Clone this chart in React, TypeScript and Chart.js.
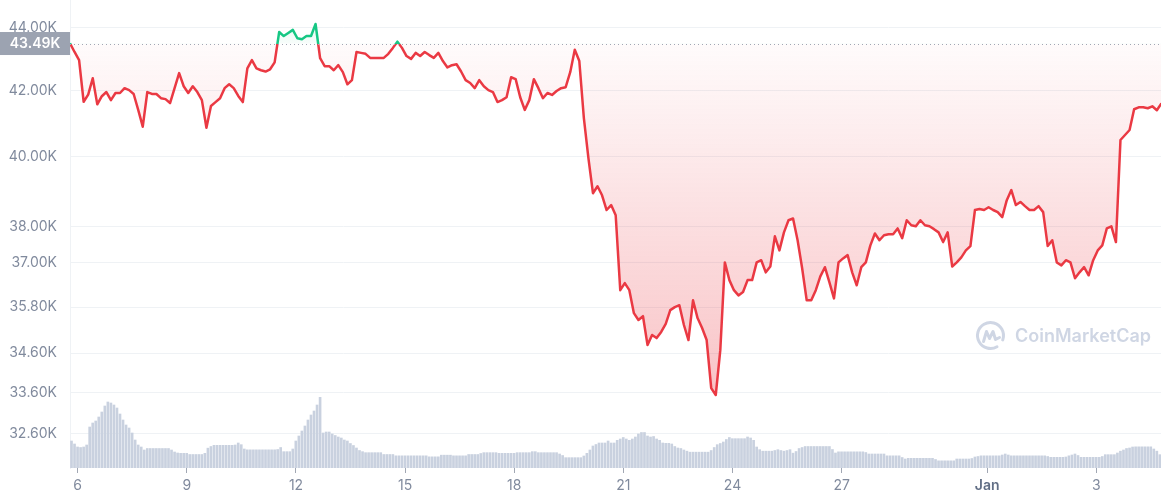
import React, { useEffect, useRef } from 'react';
import { Chart, registerables } from 'chart.js';

Chart.register(...registerables);

// ---------- data ----------
const REF_PRICE = 43490; // opening price of the period (dotted line)
const PRICE_START_DAY = 5.788; // day-of-month (Jan) of first price sample
const PRICE_STEP_DAYS = 0.125; // 3-hour samples
const VOLUME_START_DAY = 5.829;
const VOLUME_STEP_DAYS = 1 / 12; // 2-hour bars

const X_MIN = 5.788;
const X_MAX = 35.777;
const X_TICKS = [6, 9, 12, 15, 18, 21, 24, 27, 31, 34];
const X_TICK_LABELS = ['6', '9', '12', '15', '18', '21', '24', '27', 'Jan', '3'];

const Y_MIN = 31790;
const Y_MAX = 44910;
const Y_TICKS = [32600, 33600, 34600, 35800, 37000, 38000, 40000, 42000, 44000];

const VOLUME_AXIS_MAX = 280.8; // billions USD

const PRICES = [
  43500, 43220, 42960, 41660, 41880, 42390, 41580, 41830, 41960, 41710,
  41930, 41930, 42080, 42020, 41900, 41410, 40900, 41960, 41900, 41900,
  41770, 41740, 41620, 42080, 42550, 42140, 41930, 42140, 41960, 41710,
  40870, 41530, 41650, 41770, 42080, 42200, 42080, 41840, 41650, 42700,
  42960, 42700, 42640, 42600, 42670, 42890, 43860, 43730, 43830, 43930,
  43660, 43630, 43730, 43730, 44120, 43020, 42770, 42770, 42640, 42800,
  42580, 42200, 42330, 43220, 43190, 43160, 43030, 43030, 43030, 43030,
  43160, 43350, 43550, 43350, 43090, 43000, 43190, 43090, 43220, 43120,
  43030, 43190, 42930, 42730, 42800, 42830, 42600, 42330, 42240, 42080,
  42330, 42140, 42020, 41960, 41650, 41710, 41800, 42420, 42360, 41800,
  41410, 41710, 42360, 42080, 41770, 41930, 41870, 41990, 42080, 42110,
  42580, 43290, 42930, 41160, 39960, 38940, 39140, 38880, 38460, 38600,
  38310, 36250, 36440, 36250, 35640, 35460, 35560, 34810, 35070, 34990,
  35150, 35360, 35720, 35800, 35850, 35330, 34940, 35980, 35510, 35250,
  34940, 33720, 33550, 34680, 37000, 36520, 36250, 36110, 36200, 36520,
  36520, 37000, 37060, 36730, 36890, 37720, 37330, 37830, 38170, 38220,
  37610, 36840, 35980, 35980, 36250, 36620, 36870, 36460, 36030, 37000,
  37110, 37200, 36730, 36380, 36870, 37000, 37470, 37800, 37610, 37750,
  37780, 37780, 37940, 37670, 38170, 38030, 38000, 38170, 38030, 38000,
  37920, 37830, 37560, 37830, 36890, 37000, 37140, 37330, 37450, 38460,
  38490, 38460, 38540, 38460, 38400, 38260, 38740, 39030, 38600, 38690,
  38570, 38460, 38460, 38570, 38400, 37450, 37610, 37000, 36920, 37060,
  37000, 36570, 36730, 36870, 36650, 37060, 37330, 37470, 37940, 38000,
  37560, 40500, 40650, 40800, 41430, 41490, 41490, 41460, 41520, 41400,
  41610,
];

const VOLUMES = [
  16.2, 14.4, 12.6, 12.3, 12.6, 13.8, 24.6, 27.0, 28.2, 30.6,
  33.6, 37.2, 39.6, 39.0, 37.8, 36.0, 32.4, 28.8, 25.8, 24.0,
  21.0, 16.8, 13.8, 12.6, 10.8, 11.7, 11.7, 11.7, 11.7, 11.7,
  11.7, 11.7, 11.7, 10.8, 9.6, 9.0, 8.8, 8.8, 8.8, 8.1,
  8.1, 8.1, 8.1, 8.1, 8.8, 11.9, 12.9, 13.6, 13.6, 13.6,
  13.6, 13.6, 13.6, 13.6, 13.8, 15.0, 14.0, 11.4, 10.9, 10.9,
  10.9, 10.9, 10.9, 10.9, 10.9, 10.9, 10.9, 10.9, 11.1, 12.3,
  9.8, 9.8, 9.8, 11.4, 16.2, 19.2, 22.2, 25.2, 28.8, 31.8,
  34.2, 37.8, 42.4, 21.0, 21.6, 21.6, 20.4, 19.5, 18.6, 18.0,
  16.8, 16.2, 14.7, 13.5, 12.0, 10.5, 9.8, 9.2, 9.2, 9.2,
  9.2, 9.2, 9.2, 8.1, 8.1, 8.1, 8.1, 7.3, 7.3, 7.3,
  7.3, 7.3, 7.3, 7.3, 7.3, 7.3, 7.3, 7.3, 6.7, 6.7,
  6.7, 6.7, 7.7, 7.7, 7.7, 7.7, 7.3, 7.3, 7.3, 7.3,
  7.3, 8.1, 8.1, 8.1, 8.1, 8.7, 9.2, 9.2, 9.2, 9.2,
  9.2, 8.8, 8.8, 8.8, 8.8, 8.8, 8.8, 9.2, 9.2, 9.2,
  9.2, 9.2, 9.8, 9.8, 9.2, 9.2, 9.2, 9.2, 9.2, 9.2,
  9.2, 8.4, 7.5, 6.2, 6.2, 6.2, 6.2, 6.2, 6.2, 7.2,
  8.8, 10.8, 13.2, 14.1, 15.0, 15.0, 15.0, 16.2, 15.0, 15.0,
  16.6, 17.4, 18.3, 17.4, 16.6, 17.4, 18.6, 20.4, 21.3, 21.3,
  19.2, 18.6, 18.9, 17.4, 16.6, 15.0, 14.8, 14.8, 14.4, 12.9,
  12.0, 11.7, 10.8, 10.1, 9.5, 9.5, 9.5, 9.5, 9.5, 9.5,
  9.5, 10.5, 12.3, 14.0, 14.7, 15.6, 17.1, 18.3, 17.6, 17.6,
  17.6, 17.6, 17.6, 18.6, 18.0, 16.6, 12.6, 11.0, 10.1, 10.1,
  10.1, 10.1, 10.5, 11.0, 10.5, 10.1, 10.5, 11.0, 8.9, 9.9,
  11.7, 12.3, 12.9, 12.9, 12.9, 12.9, 12.9, 12.9, 12.9, 12.9,
  12.9, 11.1, 9.0, 9.7, 9.7, 9.7, 9.7, 9.7, 9.7, 9.7,
  9.7, 9.7, 9.3, 8.4, 8.4, 8.4, 8.4, 8.4, 8.4, 7.3,
  7.3, 7.3, 7.3, 7.3, 6.3, 5.4, 5.8, 5.8, 5.8, 5.8,
  5.8, 5.8, 5.8, 5.8, 5.8, 5.1, 4.3, 4.3, 4.3, 4.3,
  4.3, 4.3, 5.4, 5.4, 5.4, 5.4, 5.4, 5.7, 6.6, 6.9,
  7.3, 7.3, 7.3, 7.3, 7.3, 7.3, 7.3, 7.8, 8.4, 7.8,
  7.3, 7.3, 7.3, 7.3, 7.3, 7.3, 7.3, 7.3, 7.3, 7.3,
  7.3, 7.3, 6.9, 6.4, 6.4, 6.4, 6.4, 6.4, 6.6, 7.3,
  7.8, 8.4, 7.5, 6.4, 6.4, 6.4, 6.4, 6.4, 6.4, 6.4,
  6.9, 8.0, 8.0, 8.0, 8.0, 9.0, 10.1, 10.8, 11.7, 12.0,
  12.6, 12.7, 12.7, 12.7, 12.7, 12.7, 12.7, 11.4, 10.1, 8.0,
];

// ---------- styles ----------
const RED = '#ea3943';
const GREEN = '#16c784';
const LABEL_COLOR = '#808a9d';
const GRID_COLOR = '#eff2f5';
const FONT = 'Inter';

function lineColor(ctx: any) {
  const chart = ctx.chart;
  const area = chart.chartArea;
  if (!area) return RED;
  const yRef = chart.scales.y.getPixelForValue(REF_PRICE);
  const s = Math.min(Math.max((yRef - area.top) / (area.bottom - area.top), 0), 1);
  const g = chart.ctx.createLinearGradient(0, area.top, 0, area.bottom);
  g.addColorStop(0, GREEN);
  g.addColorStop(s, GREEN);
  g.addColorStop(s, RED);
  g.addColorStop(1, RED);
  return g;
}

function fillColor(ctx: any) {
  const chart = ctx.chart;
  const area = chart.chartArea;
  if (!area) return 'rgba(234,57,67,0.1)';
  const yRef = chart.scales.y.getPixelForValue(REF_PRICE);
  const s = Math.min(Math.max((yRef - area.top) / (area.bottom - area.top), 0), 1);
  const g = chart.ctx.createLinearGradient(0, area.top, 0, area.bottom);
  g.addColorStop(0, 'rgba(22,199,132,0.18)');
  g.addColorStop(s, 'rgba(22,199,132,0.03)');
  g.addColorStop(s, 'rgba(234,57,67,0.02)');
  g.addColorStop(1, 'rgba(234,57,67,0.36)');
  return g;
}

const refLinePlugin = {
  id: 'refLine',
  afterDatasetsDraw(chart: any) {
    const { ctx, chartArea } = chart;
    const y = Math.round(chart.scales.y.getPixelForValue(REF_PRICE)) + 0.5;
    ctx.save();
    ctx.strokeStyle = '#a1a7b3';
    ctx.lineWidth = 1;
    ctx.setLineDash([1, 3]);
    ctx.beginPath();
    ctx.moveTo(chartArea.left, y);
    ctx.lineTo(chartArea.right, y);
    ctx.stroke();
    ctx.restore();
  },
  afterDraw(chart: any) {
    const { ctx, chartArea } = chart;
    const y = chart.scales.y.getPixelForValue(REF_PRICE);
    ctx.save();
    ctx.fillStyle = '#9ca3b1';
    ctx.fillRect(0, y - 11.5, chartArea.left, 23);
    ctx.fillStyle = '#ffffff';
    ctx.font = `600 14px ${FONT}`;
    ctx.textAlign = 'center';
    ctx.textBaseline = 'middle';
    ctx.fillText((REF_PRICE / 1000).toFixed(2) + 'K', chartArea.left / 2, y + 0.5);
    ctx.restore();
  },
};

const watermarkPlugin = {
  id: 'watermark',
  beforeDatasetsDraw(chart: any) {
    const { ctx, chartArea } = chart;
    const cx = chartArea.right - 170.5;
    const cy = 335.5;
    const r = 13;
    ctx.save();
    ctx.strokeStyle = '#cfd6e4';
    ctx.fillStyle = '#cfd6e4';
    ctx.lineWidth = 3;
    ctx.lineCap = 'round';
    ctx.lineJoin = 'round';
    ctx.beginPath();
    ctx.arc(cx, cy, r, Math.PI / 3, Math.PI / 9 + Math.PI * 2);
    ctx.stroke();
    ctx.beginPath();
    ctx.moveTo(cx - 7, cy + 6);
    ctx.lineTo(cx - 4, cy - 4);
    ctx.lineTo(cx - 1, cy + 3);
    ctx.lineTo(cx + 2.5, cy - 4);
    ctx.lineTo(cx + 5, cy + 4);
    ctx.lineTo(cx + 9, cy + 2);
    ctx.stroke();
    ctx.font = `600 18px ${FONT}`;
    ctx.textAlign = 'left';
    ctx.textBaseline = 'middle';
    ctx.fillText('CoinMarketCap', cx + 24.5, cy + 1);
    ctx.restore();
  },
};

export default function App() {
  const ref = useRef<HTMLCanvasElement>(null);

  useEffect(() => {
    document.body.style.margin = '0';
    Chart.defaults.font.family = FONT;
    const canvas = ref.current;
    if (!canvas) return;

    const priceData = PRICES.map((p, i) => ({ x: PRICE_START_DAY + i * PRICE_STEP_DAYS, y: p }));
    const volumeData = VOLUMES.map((v, i) => ({ x: VOLUME_START_DAY + i * VOLUME_STEP_DAYS, y: v }));

    const chart = new Chart(canvas, {
      type: 'line',
      data: {
        datasets: [
          {
            type: 'line',
            data: priceData,
            xAxisID: 'x',
            yAxisID: 'y',
            borderColor: lineColor,
            backgroundColor: fillColor,
            borderWidth: 2.5,
            borderJoinStyle: 'round',
            pointRadius: 0,
            tension: 0,
            fill: { value: REF_PRICE },
            order: 0,
          } as any,
          {
            type: 'bar',
            data: volumeData,
            xAxisID: 'x',
            yAxisID: 'yv',
            backgroundColor: '#c9d1df',
            borderWidth: 0,
            barThickness: 2,
            order: 1,
          } as any,
        ],
      },
      options: {
        responsive: false,
        animation: false,
        events: [],
        layout: { padding: 0 },
        plugins: {
          legend: { display: false },
          tooltip: { enabled: false },
        },
        scales: {
          x: {
            type: 'linear',
            min: X_MIN,
            max: X_MAX,
            offset: false,
            afterBuildTicks: (s: any) => {
              s.ticks = X_TICKS.map((v) => ({ value: v }));
            },
            afterFit: (s: any) => {
              s.height = 32;
              s.paddingLeft = 0;
              s.paddingRight = 0;
            },
            grid: {
              display: true,
              drawOnChartArea: false,
              drawTicks: true,
              tickLength: 5,
              color: '#a1a7b3',
              offset: false,
            },
            border: { display: false },
            ticks: {
              autoSkip: false,
              maxRotation: 0,
              padding: 4,
              color: (c: any) => (c.index === 8 ? '#616e85' : LABEL_COLOR),
              font: (c: any) => ({ family: FONT, size: 14, weight: c.index === 8 ? '600' : 'normal' }),
              callback: (_v: any, i: number) => X_TICK_LABELS[i],
            },
          },
          y: {
            type: 'logarithmic',
            position: 'left',
            min: Y_MIN,
            max: Y_MAX,
            afterBuildTicks: (s: any) => {
              s.ticks = Y_TICKS.map((v) => ({ value: v }));
            },
            afterFit: (s: any) => {
              s.width = 70;
              s.paddingTop = 0;
              s.paddingBottom = 0;
            },
            grid: { color: GRID_COLOR, drawTicks: false, tickLength: 0 },
            border: { display: true, color: GRID_COLOR },
            ticks: {
              padding: 13,
              color: LABEL_COLOR,
              font: { family: FONT, size: 14 },
              callback: (v: any) => (Number(v) / 1000).toFixed(2) + 'K',
            },
          },
          yv: {
            type: 'linear',
            display: false,
            min: 0,
            max: VOLUME_AXIS_MAX,
          },
        },
      } as any,
      plugins: [watermarkPlugin, refLinePlugin],
    });

    return () => chart.destroy();
  }, []);

  return (
    <div style={{ width: 1161, height: 500, background: '#ffffff' }}>
      <canvas ref={ref} width={1161} height={500} style={{ display: 'block', width: 1161, height: 500 }} />
    </div>
  );
}
